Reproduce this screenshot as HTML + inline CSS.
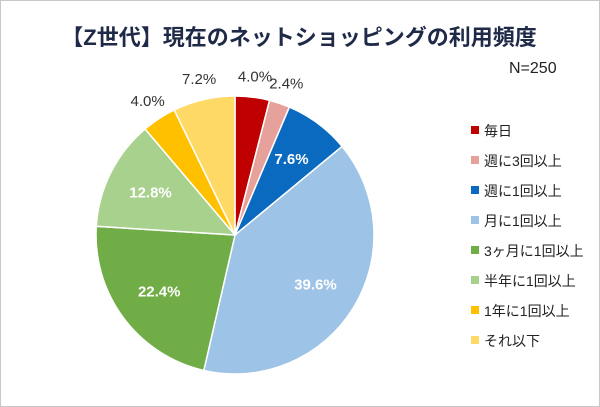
<!DOCTYPE html>
<html><head><meta charset="utf-8"><style>
body{margin:0;background:#fff;}
#wrap{position:relative;width:598px;height:405px;border:1px solid #c8c8c8;overflow:hidden;font-family:"Liberation Sans","Noto Sans CJK JP",sans-serif;}
</style></head><body>
<div id="wrap">
<svg id="chart" width="598" height="405">
<text x="298" y="44" text-anchor="middle" font-size="22" font-weight="bold" fill="#1f2a48" font-family="Liberation Sans,Noto Sans CJK JP,sans-serif">【Z世代】現在のネットショッピングの利用頻度</text>
<text x="508" y="72" font-size="16" fill="#222" font-family="Liberation Sans,Noto Sans CJK JP,sans-serif">N=250</text>
<g id="slices"></g><g id="labels"></g><g id="legend"></g>
</svg>
</div>
<script>
const categories=["毎日","週に3回以上","週に1回以上","月に1回以上","3ヶ月に1回以上","半年に1回以上","1年に1回以上","それ以下"];
const values=[4.0,2.4,7.6,39.6,22.4,12.8,4.0,7.2];
const colors=["#c00000","#e6a19b","#0a6abf","#9dc3e6","#70ad47","#a9d18e","#ffc000","#ffd966"];
const inside=[false,false,true,true,true,true,false,false];
const NS="http://www.w3.org/2000/svg";
const cx=234,cy=234,r=139;
const total=values.reduce((a,b)=>a+b,0);
const gS=document.getElementById('slices'),gL=document.getElementById('labels'),gG=document.getElementById('legend');
function pt(a,rr){return [cx+rr*Math.sin(a),cy-rr*Math.cos(a)];}
let acc=0;
values.forEach((v,i)=>{
 const a0=acc/total*2*Math.PI;acc+=v;const a1=acc/total*2*Math.PI;
 const p0=pt(a0,r),p1=pt(a1,r);
 const path=document.createElementNS(NS,'path');
 path.setAttribute('d',`M${cx},${cy}L${p0[0]},${p0[1]}A${r},${r} 0 ${a1-a0>Math.PI?1:0} 1 ${p1[0]},${p1[1]}Z`);
 path.setAttribute('fill',colors[i]);path.setAttribute('stroke','#fff');path.setAttribute('stroke-width','1.5');
 
 
 gS.appendChild(path);
 const am=(a0+a1)/2;const p=pt(am,inside[i]?r*0.68:r*1.15);
 const t=document.createElementNS(NS,'text');
 t.setAttribute('x',p[0]);t.setAttribute('y',p[1]+5);t.setAttribute('text-anchor','middle');
 t.setAttribute('font-size','15');
 if(inside[i]){t.setAttribute('font-weight','bold');t.setAttribute('fill','#fff');}else t.setAttribute('fill','#333');
 t.setAttribute('font-family','Liberation Sans,sans-serif');
 t.textContent=v.toFixed(1)+'%';
 
 
 gL.appendChild(t);
 const y=130+i*30;
 const sq=document.createElementNS(NS,'rect');
 sq.setAttribute('x',470);sq.setAttribute('y',y-5);sq.setAttribute('width',8);sq.setAttribute('height',8);sq.setAttribute('fill',colors[i]);
 
 
 gG.appendChild(sq);
 const lt=document.createElementNS(NS,'text');
 lt.setAttribute('x',483);lt.setAttribute('y',y+5);lt.setAttribute('font-size','14');lt.setAttribute('fill','#222');
 lt.setAttribute('font-family','Liberation Sans,Noto Sans CJK JP,sans-serif');
 lt.textContent=categories[i];
 
 
 gG.appendChild(lt);
});
</script>
</body></html>
